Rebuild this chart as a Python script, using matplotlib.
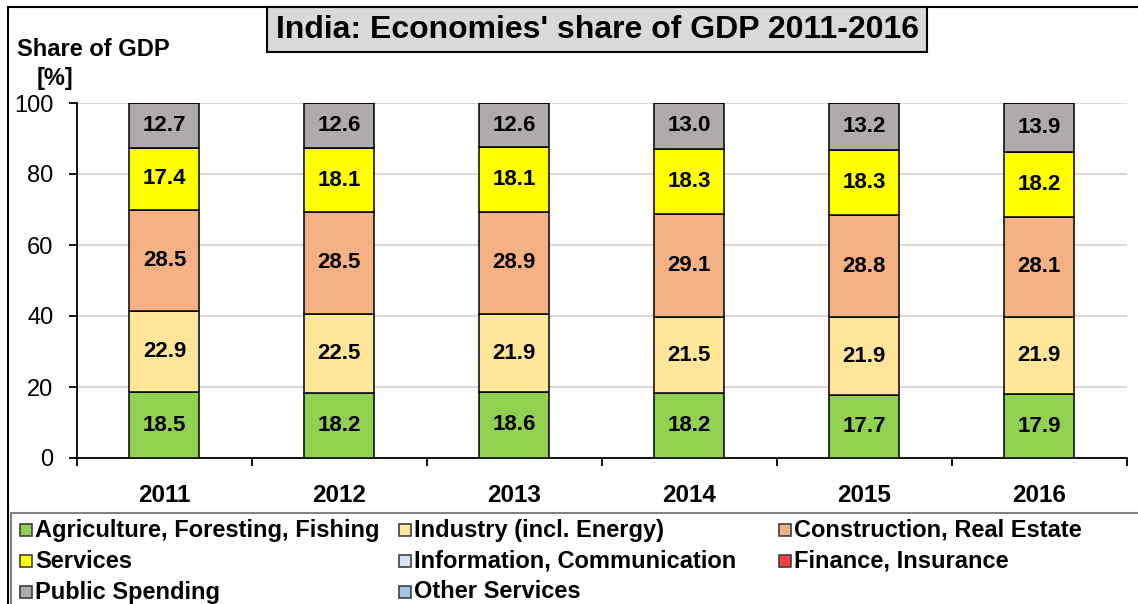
import matplotlib.pyplot as plt
import numpy as np
from matplotlib.patches import Rectangle

plt.rcParams['font.family'] = ['Liberation Sans', 'DejaVu Sans']

# data
years = ["2011", "2012", "2013", "2014", "2015", "2016"]
agriculture = [18.5, 18.2, 18.6, 18.2, 17.7, 17.9]
industry = [22.9, 22.5, 21.9, 21.5, 21.9, 21.9]
construction = [28.5, 28.5, 28.9, 29.1, 28.8, 28.1]
services = [17.4, 18.1, 18.1, 18.3, 18.3, 18.2]
information = [0, 0, 0, 0, 0, 0]
finance = [0, 0, 0, 0, 0, 0]
public = [12.7, 12.6, 12.6, 13.0, 13.2, 13.9]
other = [0, 0, 0, 0, 0, 0]

names = ["Agriculture, Foresting, Fishing", "Industry (incl. Energy)", "Construction, Real Estate",
         "Services", "Information, Communication", "Finance, Insurance",
         "Public Spending", "Other Services"]
series = [agriculture, industry, construction, services, information, finance, public, other]
colors = ["#92d050", "#ffe699", "#f4b183", "#ffff00", "#dae3f3", "#ff4040", "#afabab", "#9dc3e6"]

W, H = 1138, 604
fig = plt.figure(figsize=(W / 100, H / 100), dpi=100)

def fx(px):  # pixel x -> figure fraction
    return px / W

def fy(py):  # pixel y (from top) -> figure fraction
    return 1 - py / H

ax = fig.add_axes([fx(77), fy(458), fx(1126.5) - fx(77), fy(103) - fy(458)])

x = np.arange(len(years))
bottom = np.zeros(len(years))
for vals, col in zip(series, colors):
    vals = np.array(vals)
    ax.bar(x, vals, width=0.4, bottom=bottom, color=col, edgecolor="black", linewidth=1.1, zorder=3)
    for xi, b, v in zip(x, bottom, vals):
        if v > 0:
            ax.text(xi, b + v / 2, f"{v:.1f}", ha="center", va="center", fontsize=16,
                    fontweight="bold", zorder=4)
    bottom += vals

ax.set_xlim(-0.5, len(years) - 0.5)
ax.set_ylim(0, 100)
ax.set_yticks([0, 20, 40, 60, 80, 100])
ax.yaxis.grid(True, color="#d9d9d9", linewidth=1.5, zorder=0)
ax.set_axisbelow(True)
ax.spines["top"].set_visible(False)
ax.spines["right"].set_visible(False)
ax.spines["left"].set_linewidth(1.3)
ax.spines["bottom"].set_linewidth(1.3)
ax.tick_params(axis="y", length=6, width=1.3, labelsize=17, pad=11)
ax.set_xticks(x)
ax.set_xticklabels(years, fontsize=17.5, fontweight="bold")
ax.set_xticks(np.arange(len(years) + 1) - 0.5, minor=True)
ax.tick_params(axis="x", which="major", length=0, pad=19)
ax.tick_params(axis="x", which="minor", length=6, width=1.3)

# y axis label
fig.text(fx(93), fy(50), "Share of GDP", ha="center", va="center", fontsize=17, fontweight="bold")
fig.text(fx(55), fy(79), "[%]", ha="center", va="center", fontsize=17, fontweight="bold")

# outer frame
fig.patches.append(Rectangle((fx(8), fy(620)), fx(1200), fy(7) - fy(620), transform=fig.transFigure,
                             fill=False, edgecolor="black", linewidth=1.5))

# title box
fig.patches.append(Rectangle((fx(267), fy(52)), fx(927) - fx(267), fy(7) - fy(52),
                             transform=fig.transFigure, facecolor="#d9d9d9", edgecolor="black",
                             linewidth=1.5))
fig.text(fx(597), fy(30), "India: Economies' share of GDP 2011-2016", ha="center", va="center",
         fontsize=23, fontweight="bold")

# legend box
fig.patches.append(Rectangle((fx(11), fy(620)), fx(1200), fy(513) - fy(620), transform=fig.transFigure,
                             fill=False, edgecolor="#808080", linewidth=1.5))

col_x = [20, 399, 779]
row_y = [530, 561, 592]
for i, (name, col) in enumerate(zip(names, colors)):
    r, c = divmod(i, 3)
    sx, sy = col_x[c], row_y[r]
    fig.patches.append(Rectangle((fx(sx), fy(sy + 6)), fx(12), fy(sy - 6) - fy(sy + 6),
                                 transform=fig.transFigure, facecolor=col, edgecolor="#404040",
                                 linewidth=1.2))
    fig.text(fx(sx + 15), fy(sy), name, ha="left", va="center", fontsize=17, fontweight="bold")

plt.savefig("out.png", dpi=100)
